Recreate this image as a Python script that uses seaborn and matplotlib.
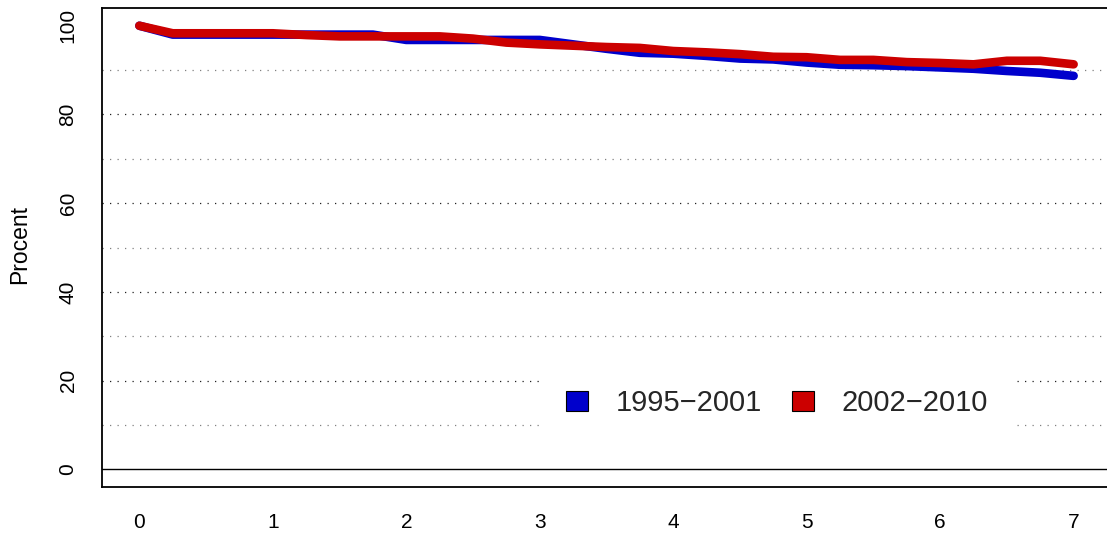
import matplotlib
matplotlib.use("Agg")
import matplotlib.pyplot as plt
from matplotlib.patches import Patch
import numpy as np
import pandas as pd
import seaborn as sns

# Years since start, quarterly steps
years = [0, 0.25, 0.5, 0.75, 1, 1.25, 1.5, 1.75, 2, 2.25, 2.5, 2.75, 3, 3.25,
         3.5, 3.75, 4, 4.25, 4.5, 4.75, 5, 5.25, 5.5, 5.75, 6, 6.25, 6.5, 6.75, 7]

# Share still remaining (percent) per cohort
cohort_1995_2001 = [100, 98.0, 98.0, 98.0, 98.0, 98.0, 98.0, 98.0, 96.8, 96.8,
                    96.8, 96.8, 96.8, 95.8, 94.8, 93.9, 93.7, 93.2, 92.6, 92.4,
                    91.7, 91.2, 91.1, 90.9, 90.6, 90.3, 89.8, 89.4, 88.7]
cohort_2002_2010 = [100, 98.3, 98.3, 98.3, 98.3, 97.9, 97.6, 97.6, 97.6, 97.6,
                    97.1, 96.2, 95.8, 95.5, 95.2, 95.0, 94.3, 94.0, 93.6, 93.0,
                    92.9, 92.3, 92.3, 91.8, 91.6, 91.3, 92.1, 92.1, 91.3]

periods = ["1995\u22122001", "2002\u22122010"]
colors = ["#0000CC", "#CC0000"]

x_ticks = [0, 1, 2, 3, 4, 5, 6, 7]
y_ticks = [0, 20, 40, 60, 80, 100]
y_ylabel = "Procent"

df = pd.DataFrame({
    "year": years * 2,
    "value": cohort_1995_2001 + cohort_2002_2010,
    "period": [periods[0]] * len(years) + [periods[1]] * len(years),
})

sns.set_style("white")
plt.rcParams["font.family"] = ["Liberation Sans", "DejaVu Sans"]

W, H = 1107, 535
fig = plt.figure(figsize=(W / 100, H / 100), dpi=100)
ax = fig.add_axes([102 / W, 1 - 487 / H, (1111 - 102) / W, (487 - 8) / H])

# Dotted reference lines every 10 percent, solid line at zero
for v in range(10, 100, 10):
    col = "#808080" if (v // 10) % 2 else "#202020"
    ax.axhline(v, color=col, lw=0.9, linestyle=(0, (1, 5)), zorder=1)
ax.axhline(0, color="black", lw=1.0, zorder=1)

sns.lineplot(data=df, x="year", y="value", hue="period", hue_order=periods,
             palette=colors, linewidth=6.2, legend=False, ax=ax,
             solid_capstyle="round", solid_joinstyle="round", zorder=3)

ax.set_xlim(-0.28, 7.28)
ax.set_ylim(-4, 104)
ax.set_xticks(x_ticks)
ax.set_xticklabels([str(t) for t in x_ticks])
ax.set_yticks(y_ticks)
ax.set_yticklabels([str(t) for t in y_ticks], rotation=90, va="center")
ax.set_xlabel("")
ax.set_ylabel("")

for s in ax.spines.values():
    s.set_color("black")
    s.set_linewidth(1.3)

ax.tick_params(axis="both", which="major", direction="out", length=8.6,
               width=1.0, color="black", labelsize=15, labelcolor="black")
ax.tick_params(axis="x", pad=10)
ax.tick_params(axis="y", pad=9)

fig.text(20 / W, 1 - 245 / H, y_ylabel, rotation=90, ha="center", va="center",
         fontsize=16.5, color="black")

handles = [Patch(facecolor=c, edgecolor="black", linewidth=0.8, label=p)
           for c, p in zip(colors, periods)]
leg = ax.legend(handles=handles, ncol=2, loc="center",
                bbox_to_anchor=(777 / W, 1 - 403 / H),
                bbox_transform=fig.transFigure,
                fontsize=21, frameon=True, facecolor="white", edgecolor="none",
                framealpha=1.0, fancybox=False, handlelength=0.75,
                handleheight=0.68, handletextpad=0.95, columnspacing=1.05,
                borderpad=0.85)
leg.set_zorder(5)

fig.savefig("out.png", dpi=100, facecolor="white")
